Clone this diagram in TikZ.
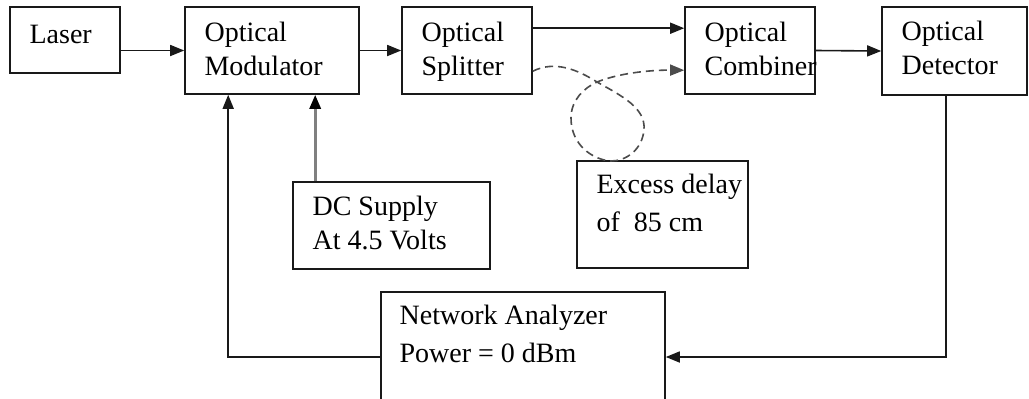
\documentclass[tikz,border=0pt]{standalone}
\usepackage{fontspec}
\setmainfont{Liberation Serif}
\usetikzlibrary{arrows.meta,fit,calc}
\begin{document}
\begin{tikzpicture}[x=0.5pt,y=-0.5pt,
  box/.style={draw=black!90, line width=0.8pt, inner sep=0pt, rectangle},
  txt/.style={anchor=base west, inner sep=0pt, align=left, font=\fontsize{14}{17}\selectfont},
  txtwide/.style={txt, font=\fontsize{14}{19}\selectfont},
  arr/.style={-{Triangle[length=7pt,width=5.5pt]}, line width=0.8pt, draw=black!90},
  grayarr/.style={-{Triangle[length=7pt,width=5.5pt,color=black]}, line width=1.5pt, draw=black!50},
  loop/.style={arr, draw=black!70, dash pattern=on 4pt off 2.5pt}]
\useasboundingbox[fill=white] (0,0) rectangle (1029,398);
% boxes
\node[box, fit={(10,7) (120,73)}] (laser) {};
\node[box, fit={(185,7) (359,94)}] (mod) {};
\node[box, fit={(402,7) (532,94)}] (split) {};
\node[box, fit={(685,7) (815,94)}] (comb) {};
\node[box, fit={(882,7) (1027,95)}] (det) {};
\node[box, fit={(293,182) (490,269)}] (dc) {};
\node[box, fit={(577,161) (748,268)}] (excess) {};
\node[box, fit={(381,292) (665,422)}] (na) {};
% texts (anchor = baseline of the last line)
\node[txt] (laser-t) at ($(laser.north west)+(20,37)$) {Laser};
\node[txt] (mod-t) at ($(mod.north west)+(20,69)$) {Optical\\Modulator};
\node[txt] (split-t) at ($(split.north west)+(20,69)$) {Optical\\Splitter};
\node[txt] (comb-t) at ($(comb.north west)+(20,69)$) {Optical\\Combiner};
\node[txt] (det-t) at ($(det.north west)+(20,68)$) {Optical\\Detector};
\node[txt] (dc-t) at ($(dc.north west)+(20,68)$) {DC Supply\\At 4.5 Volts};
\node[txtwide] (excess-t) at ($(excess.north west)+(20,71)$) {Excess delay\\of \ 85 cm};
\node[txtwide] (na-t) at ($(na.north west)+(19,71)$) {Network Analyzer\\Power = 0 dBm};
% helper coordinates
\coordinate (s1) at ($(split.north east)+(0,22)$);
\coordinate (s2) at ($(split.north east)+(0,65)$);
\coordinate (c2) at ($(comb.north west)+(0,64)$);
\coordinate (d1) at ($(det.south west)+(65,0)$);
\coordinate (m1) at ($(mod.south west)+(44,0)$);
\coordinate (m2) at ($(mod.south west)+(131,0)$);
% connectors
\draw[arr] (laser.east |- mod.west) -- (mod.west);
\draw[arr] (mod.east) -- (split.west);
\draw[arr] (s1) -- (s1 -| comb.west);
\draw[arr] (comb.east) -- (det.west);
\draw[arr] (d1) |- (na.east);
\draw[arr] (na.west) -| (m1);
\draw[grayarr] (m2 |- dc.north) -- (m2);
\draw[loop] (s2) .. controls (555,60) and (578,70) .. (597,82)
  .. controls (622,96) and (646,108) .. (644,130)
  .. controls (642,150) and (626,161) .. (611,161)
  .. controls (594,160) and (571,146) .. (571,118)
  .. controls (571,100) and (584,88) .. (597,82)
  .. controls (622,72) and (655,70) .. (c2);
\end{tikzpicture}
\end{document}
